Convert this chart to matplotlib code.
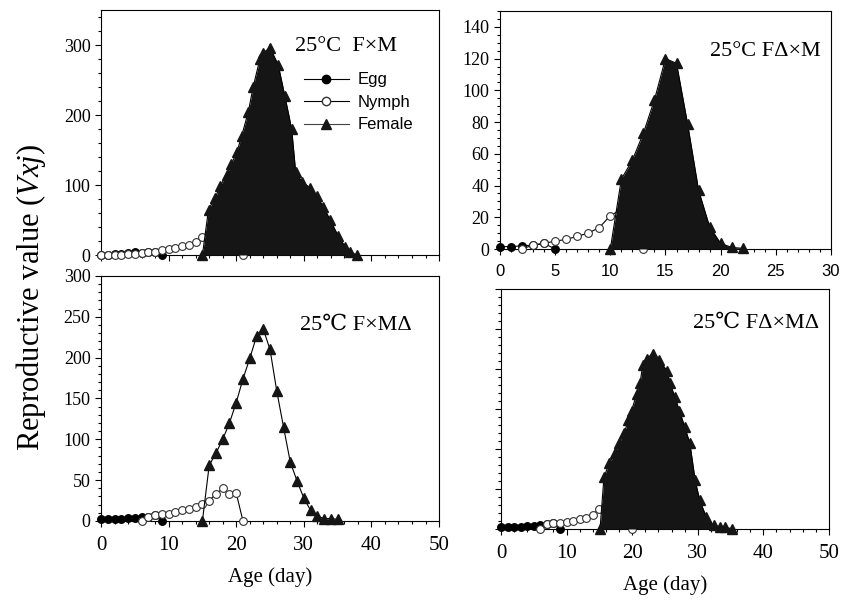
import matplotlib.pyplot as plt
from matplotlib.ticker import MultipleLocator
from matplotlib.lines import Line2D

plt.rcParams['font.family'] = ['Liberation Serif', 'DejaVu Serif']
plt.rcParams['mathtext.fontset'] = 'custom'
plt.rcParams['mathtext.rm'] = 'Liberation Serif'
plt.rcParams['mathtext.it'] = 'Liberation Serif:italic'

# ---- 25C F x M (top left) ----
fm_egg_age = [0, 1, 2, 3, 4, 5, 6, 7, 8, 9]
fm_egg_v = [0.5, 0.5, 1, 1.5, 2.5, 4, 3, 4, 5, 0]
fm_nym_age = list(range(0, 22))
fm_nym_v = [0, 0, 0, 0.5, 1, 2, 3, 4, 5, 6.5, 8, 10, 12.5, 15, 19, 26,
            30, 34, 36, 34, 30, 0]
fm_fem_age = [15.0, 15.9, 16.9, 17.6, 18.6, 19.3, 20.1, 20.8, 21.8, 22.5, 23.5,
              24.0, 25.0, 26.2, 27.2, 28.2, 28.8, 29.7, 30.9, 31.9, 32.9, 33.9,
              35.1, 36.1, 36.8, 37.8]
fm_fem_v = [0, 65, 82, 98, 115, 130, 147, 170, 205, 240, 280, 289, 296, 272, 227,
            180, 118, 105, 96, 84, 69, 50, 27, 12, 5, 0]

# ---- 25C Fd x M (top right) ----
fdm_egg_age = [0, 1, 2, 3, 4, 5]
fdm_egg_v = [1.5, 1.5, 2, 2.5, 3.5, 0]
fdm_nym_age = list(range(2, 14))
fdm_nym_v = [0, 2.5, 3.5, 5, 6, 8, 10, 13.5, 21, 25, 20, 0]
fdm_fem_age = list(range(10, 23))
fdm_fem_v = [0, 44, 56, 73, 94, 120, 117, 79, 37, 14, 3.5, 1, 0.4]

# ---- 25C F x Md (bottom left) ----
fmd_egg_age = [0, 1, 2, 3, 4, 5, 6, 7, 8, 9]
fmd_egg_v = [2, 2, 2.5, 3, 3.5, 4, 5, 5, 7, 0]
fmd_nym_age = list(range(6, 22))
fmd_nym_v = [0, 5, 7, 8, 9, 11, 13, 15, 17, 21, 25, 33, 40, 33, 34, 0]
fmd_fem_age = list(range(15, 36))
fmd_fem_v = [0, 68, 83, 100, 120, 145, 174, 199, 226, 235, 210, 159, 115, 72, 49,
             28, 13, 6, 3, 3, 2]

# ---- 25C Fd x Md (bottom right) ----
fdmd_egg_age = [0, 1, 2, 3, 4, 5, 6, 7, 8, 9]
fdmd_egg_v = [2, 2, 2.5, 3, 3.5, 4, 4.5, 6, 7, 0]
fdmd_nym_age = list(range(6, 21))
fdmd_nym_v = [0, 6, 7, 8, 9, 10, 12, 14, 18, 25, 30, 33, 35, 30, 0]
fdmd_fem_age = [15.1, 15.7, 16.5, 17.4, 18.0, 18.8, 19.4, 19.9, 20.7, 21.2, 21.6,
                22.2, 23.1, 24.1, 25.3, 25.8, 26.5, 27.2, 28.0, 28.8, 29.6, 30.3,
                31.3, 32.4, 33.4, 34.1, 35.2]
fdmd_fem_v = [0, 65, 82, 95, 107, 120, 136, 148, 169, 182, 205, 213, 219, 211, 198,
              182, 165, 148, 128, 107, 61, 36, 15, 5, 2.5, 2, 0.5]

titles = ["25°C  F×M", "25°C FΔ×M", "25℃ F×MΔ", "25℃ FΔ×MΔ"]

DARK = '#151515'
LW = 0.8


def draw(ax, egg_a, egg_v, nym_a, nym_v, fem_a, fem_v, filled=True):
    ax.plot(egg_a, egg_v, '-o', color='k', lw=LW, ms=5.4, mfc='k', mec='k',
            zorder=2, clip_on=False)
    ax.plot(nym_a, nym_v, '-o', color='k', lw=LW, ms=5.6, mfc='white', mec='#333333',
            mew=0.8, zorder=3, clip_on=False)
    if filled:
        ax.fill_between(fem_a, fem_v, 0, color=DARK, lw=0, zorder=4)
    ax.plot(fem_a, fem_v, '-^', color='k', lw=LW, ms=6.8, mfc=DARK, mec=DARK,
            zorder=5, clip_on=False)


def ticks(ax, xmax, xmaj, xmin, ymax, ymaj, ymin, xlab=True, ylab=True,
          xsize=15, ysize=13):
    ax.set_xlim(0, xmax)
    ax.set_ylim(0, ymax)
    ax.xaxis.set_major_locator(MultipleLocator(xmaj))
    ax.xaxis.set_minor_locator(MultipleLocator(xmin))
    ax.yaxis.set_major_locator(MultipleLocator(ymaj))
    ax.yaxis.set_minor_locator(MultipleLocator(ymin))
    ax.tick_params(which='both', direction='out', top=False, right=False,
                   width=0.8, colors='k')
    ax.tick_params(which='major', length=4.5)
    ax.tick_params(which='minor', length=2.5)
    ax.tick_params(axis='x', labelsize=xsize, labelbottom=xlab, pad=6)
    ax.tick_params(axis='y', labelsize=ysize, labelleft=ylab, pad=3)
    for s in ax.spines.values():
        s.set_linewidth(0.8)


fig = plt.figure(figsize=(8.51, 6), dpi=100)

ax1 = fig.add_axes([0.1187, 0.575, 0.3972, 0.4083])
draw(ax1, fm_egg_age, fm_egg_v, fm_nym_age, fm_nym_v, fm_fem_age, fm_fem_v)
ticks(ax1, 50, 10, 2, 350, 100, 20, xlab=False)
ax1.text(0.574, 0.85, titles[0], transform=ax1.transAxes, fontsize=16,
         va='center', ha='left')
handles = [
    Line2D([], [], color='k', lw=LW, marker='o', ms=6, mfc='k', mec='k'),
    Line2D([], [], color='k', lw=LW, marker='o', ms=6, mfc='white', mec='#333333'),
    Line2D([], [], color='#444444', lw=LW, marker='^', ms=6.5, mfc=DARK, mec=DARK),
]
ax1.legend(handles, ['Egg', 'Nymph', 'Female'], loc='upper left',
           bbox_to_anchor=(0.6, 0.745), frameon=False, handlelength=2.7,
           handletextpad=0.5, labelspacing=0.45, borderpad=0, borderaxespad=0,
           prop={'family': 'Liberation Sans', 'size': 12})

ax2 = fig.add_axes([0.5875, 0.585, 0.389, 0.3967])
draw(ax2, fdm_egg_age, fdm_egg_v, fdm_nym_age, fdm_nym_v, fdm_fem_age, fdm_fem_v)
ticks(ax2, 30, 5, 1, 150, 20, 5, xsize=12)
for lab in ax2.get_xticklabels():
    lab.set_family('Liberation Sans')
ax2.text(0.634, 0.828, titles[1], transform=ax2.transAxes, fontsize=16,
         va='center', ha='left')

ax3 = fig.add_axes([0.1187, 0.1317, 0.3972, 0.4083])
draw(ax3, fmd_egg_age, fmd_egg_v, fmd_nym_age, fmd_nym_v, fmd_fem_age, fmd_fem_v,
     filled=False)
ticks(ax3, 50, 10, 2, 300, 50, 10)
ax3.text(0.589, 0.8, titles[2], transform=ax3.transAxes, fontsize=16,
         va='center', ha='left')
ax3.set_xlabel('Age (day)', fontsize=15, labelpad=9)

ax4 = fig.add_axes([0.5887, 0.1183, 0.3854, 0.4])
draw(ax4, fdmd_egg_age, fdmd_egg_v, fdmd_nym_age, fdmd_nym_v, fdmd_fem_age, fdmd_fem_v)
ticks(ax4, 50, 10, 2, 300, 50, 10, ylab=False)
ax4.text(0.584, 0.858, titles[3], transform=ax4.transAxes, fontsize=16,
         va='center', ha='left')
ax4.set_xlabel('Age (day)', fontsize=15, labelpad=9)

fig.text(0.037, 0.505, r'Reproductive value ($Vxj$)', rotation=90, fontsize=22,
         va='center', ha='center')

fig.savefig('out.png', dpi=100)
